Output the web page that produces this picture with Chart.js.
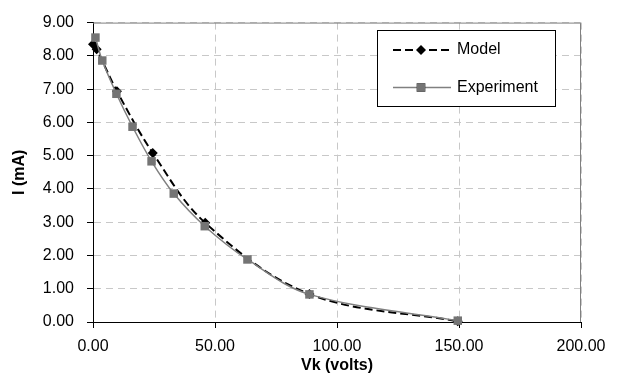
<!DOCTYPE html>
<html>
<head>
<meta charset="utf-8">
<style>
  html, body { margin: 0; padding: 0; background: #fff; }
  #wrap { width: 629px; height: 378px; position: relative; }
</style>
<script src="https://cdn.jsdelivr.net/npm/chart.js@4.4.1/dist/chart.umd.min.js"></script>
</head>
<body>
<div id="wrap"><canvas id="chart"></canvas></div>
<script>
// valores
var modelVk = [0, 1.5, 9.8, 24.5, 46, 88.7, 149.5];
var modelI = [8.35, 8.2, 6.94, 5.08, 2.98, 0.84, 0.02];
var expVk = [1.0, 3.8, 9.6, 16.2, 24.0, 33.1, 45.8, 63.3, 88.7, 149.5];
var expI = [8.55, 7.86, 6.86, 5.87, 4.83, 3.86, 2.88, 1.88, 0.83, 0.04];
var seriesNames = ['Model', 'Experiment'];
var xTitle = 'Vk (volts)';
var yTitle = 'I (mA)';

var FONT = 'Arial, "Liberation Sans", sans-serif';

function toPoints(xs, ys) {
    return xs.map(function (x, i) { return { x: x, y: ys[i] }; });
}

// moldura da área do gráfico (topo e direita cinza)
var plotFrame = {
    id: 'plotFrame',
    beforeDatasetsDraw: function (chart) {
        var a = chart.chartArea, ctx = chart.ctx;
        ctx.save();
        ctx.strokeStyle = '#808080';
        ctx.lineWidth = 1;
        ctx.beginPath();
        ctx.moveTo(a.left, a.top + 0.5);
        ctx.lineTo(a.right - 0.5, a.top + 0.5);
        ctx.lineTo(a.right - 0.5, a.bottom);
        ctx.stroke();
        ctx.restore();
    }
};

// legenda dentro da área do gráfico, como no Excel
var boxLegend = {
    id: 'boxLegend',
    afterDraw: function (chart) {
        var ctx = chart.ctx;
        var x0 = 377.5, y0 = 30.5, w = 178, h = 76;
        ctx.save();
        ctx.fillStyle = '#fff';
        ctx.fillRect(x0, y0, w, h);
        ctx.strokeStyle = '#000';
        ctx.lineWidth = 1;
        ctx.strokeRect(x0, y0, w, h);

        chart.data.datasets.forEach(function (ds, i) {
            var y = i === 0 ? 50 : 87.5;
            ctx.save();
            ctx.strokeStyle = ds.borderColor;
            ctx.lineWidth = ds.borderWidth;
            ctx.setLineDash(ds.borderDash || []);
            ctx.beginPath();
            ctx.moveTo(393, y);
            ctx.lineTo(451, y);
            ctx.stroke();
            ctx.restore();
            Chart.helpers.drawPoint(ctx, {
                pointStyle: ds.pointStyle,
                radius: ds.pointRadius,
                rotation: 0,
                borderWidth: 0
            }, 421, y);
            ctx.fillStyle = ds.pointBackgroundColor;
            ctx.fill();
            ctx.fillStyle = '#000';
            ctx.font = '16px ' + FONT;
            ctx.textAlign = 'left';
            ctx.textBaseline = 'middle';
            ctx.fillText(ds.label, 457, y);
        });
        ctx.restore();
    }
};

var ctx = document.getElementById('chart').getContext('2d');
new Chart(ctx, {
    type: 'line',
    data: {
        datasets: [{
            label: seriesNames[0],
            data: toPoints(modelVk, modelI),
            borderColor: '#000000',
            borderWidth: 2,
            borderDash: [8, 4],
            pointStyle: 'rectRot',
            pointRadius: 5,
            pointBackgroundColor: '#000000',
            pointBorderWidth: 0,
            tension: 0.35,
            clip: false,
            order: 1
        }, {
            label: seriesNames[1],
            data: toPoints(expVk, expI),
            borderColor: '#808080',
            borderWidth: 1.5,
            pointStyle: 'rect',
            pointRadius: 6,
            pointBackgroundColor: '#747474',
            pointBorderWidth: 0,
            tension: 0.35,
            clip: false,
            order: 0
        }]
    },
    options: {
        responsive: true,
        maintainAspectRatio: false,
        animation: false,
        layout: { padding: { left: 0, right: 48, top: 13, bottom: 0 } },
        plugins: {
            legend: { display: false },
            tooltip: { enabled: false }
        },
        scales: {
            x: {
                type: 'linear',
                min: 0,
                max: 200,
                ticks: {
                    stepSize: 50,
                    color: '#000',
                    padding: 9,
                    maxRotation: 0,
                    font: { family: FONT, size: 16 },
                    callback: function (v) { return v.toFixed(2); }
                },
                grid: {
                    color: '#c8c8c8',
                    tickColor: '#000',
                    tickLength: 6,
                    tickBorderDash: []
                },
                border: { display: true, color: '#000', width: 1, dash: [7, 5] },
                title: {
                    display: true,
                    text: xTitle,
                    color: '#000',
                    font: { family: FONT, size: 16, weight: 'bold' },
                    padding: { top: 0, bottom: 3 }
                },
                afterFit: function (s) { s.height = 56; }
            },
            y: {
                min: 0,
                max: 9,
                ticks: {
                    stepSize: 1,
                    color: '#000',
                    padding: 13,
                    font: { family: FONT, size: 16 },
                    callback: function (v) { return v.toFixed(2); }
                },
                grid: {
                    color: '#c8c8c8',
                    tickColor: '#000',
                    tickLength: 6,
                    tickBorderDash: []
                },
                border: { display: true, color: '#000', width: 1, dash: [7, 5] },
                title: {
                    display: true,
                    text: yTitle,
                    color: '#000',
                    font: { family: FONT, size: 16, weight: 'bold' },
                    padding: { top: 10, bottom: 0 }
                },
                afterFit: function (s) { s.width = 93; }
            }
        }
    },
    plugins: [plotFrame, boxLegend]
});
</script>
</body>
</html>
